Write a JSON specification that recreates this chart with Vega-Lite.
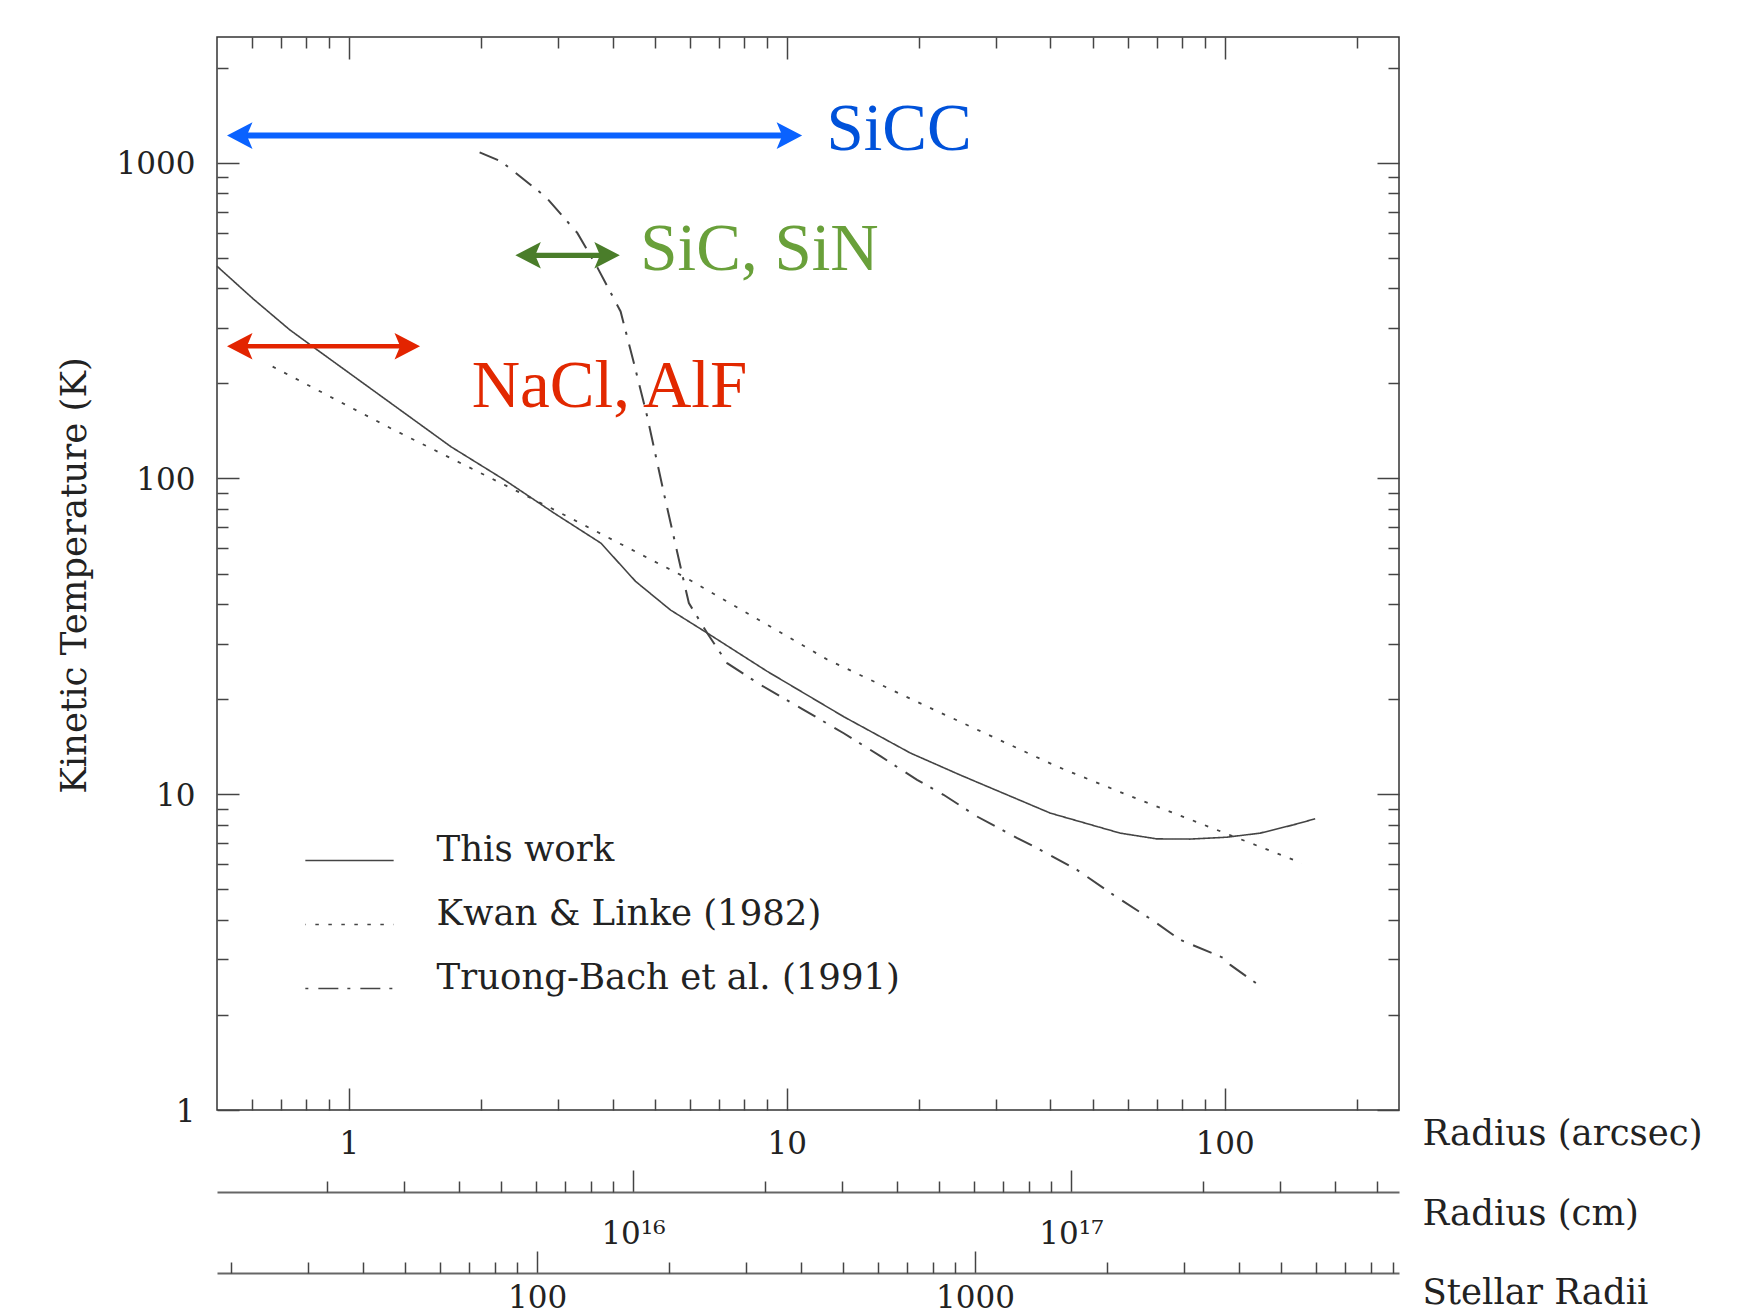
{
  "$schema": "https://vega.github.io/schema/vega-lite/v6.json",
  "width": 1182,
  "height": 1073,
  "autosize": {"type": "none"},
  "padding": {"left": 217, "top": 37, "right": 346, "bottom": 205},
  "background": "white",
  "config": {
    "view": {"stroke": "#333", "strokeWidth": 1.5},
    "axis": {
      "grid": false,
      "domain": false,
      "labelFont": "DejaVu Serif",
      "labelFontSize": 31,
      "labelColor": "#222",
      "titleFont": "DejaVu Serif",
      "titleFontSize": 35.5,
      "titleFontWeight": "normal",
      "titleColor": "#222",
      "tickColor": "#444",
      "tickWidth": 1.5,
      "labelOverlap": false,
      "labelFlush": false
    },
    "legend": {
      "labelFont": "DejaVu Serif",
      "labelFontSize": 35.5,
      "labelColor": "#222"
    }
  },
  "datasets": {
    "curves": [
      {"series": "This work", "r": 0.5, "T": 470},
      {"series": "This work", "r": 0.604, "T": 371},
      {"series": "This work", "r": 0.732, "T": 296},
      {"series": "This work", "r": 0.835, "T": 259},
      {"series": "This work", "r": 1.248, "T": 173},
      {"series": "This work", "r": 1.711, "T": 126},
      {"series": "This work", "r": 2.265, "T": 99},
      {"series": "This work", "r": 2.945, "T": 77.6},
      {"series": "This work", "r": 3.763, "T": 62.4},
      {"series": "This work", "r": 4.516, "T": 47.2},
      {"series": "This work", "r": 5.428, "T": 38.3},
      {"series": "This work", "r": 6.58, "T": 32.4},
      {"series": "This work", "r": 9.02, "T": 24.5},
      {"series": "This work", "r": 13.49, "T": 17.6},
      {"series": "This work", "r": 19.16, "T": 13.5},
      {"series": "This work", "r": 24.9, "T": 11.5},
      {"series": "This work", "r": 40.0, "T": 8.71},
      {"series": "This work", "r": 57.7, "T": 7.53},
      {"series": "This work", "r": 70.0, "T": 7.22},
      {"series": "This work", "r": 83.4, "T": 7.21},
      {"series": "This work", "r": 101.2, "T": 7.31},
      {"series": "This work", "r": 120.5, "T": 7.53},
      {"series": "This work", "r": 143.6, "T": 8.0},
      {"series": "This work", "r": 160.9, "T": 8.36},
      {"series": "Kwan & Linke (1982)", "r": 0.67, "T": 226},
      {"series": "Kwan & Linke (1982)", "r": 1.248, "T": 144},
      {"series": "Kwan & Linke (1982)", "r": 2.893, "T": 80.6},
      {"series": "Kwan & Linke (1982)", "r": 5.82, "T": 48.9},
      {"series": "Kwan & Linke (1982)", "r": 12.37, "T": 26.7},
      {"series": "Kwan & Linke (1982)", "r": 20.9, "T": 18.96},
      {"series": "Kwan & Linke (1982)", "r": 41.4, "T": 12.24},
      {"series": "Kwan & Linke (1982)", "r": 59.8, "T": 9.96},
      {"series": "Kwan & Linke (1982)", "r": 150, "T": 6.05},
      {"series": "Truong-Bach et al. (1991)", "r": 1.989, "T": 1078},
      {"series": "Truong-Bach et al. (1991)", "r": 2.228, "T": 1009},
      {"series": "Truong-Bach et al. (1991)", "r": 2.814, "T": 780},
      {"series": "Truong-Bach et al. (1991)", "r": 3.324, "T": 599},
      {"series": "Truong-Bach et al. (1991)", "r": 3.693, "T": 466},
      {"series": "Truong-Bach et al. (1991)", "r": 4.174, "T": 338},
      {"series": "Truong-Bach et al. (1991)", "r": 4.476, "T": 232},
      {"series": "Truong-Bach et al. (1991)", "r": 4.801, "T": 157},
      {"series": "Truong-Bach et al. (1991)", "r": 5.241, "T": 89.7},
      {"series": "Truong-Bach et al. (1991)", "r": 5.82, "T": 47.2},
      {"series": "Truong-Bach et al. (1991)", "r": 5.976, "T": 40.3},
      {"series": "Truong-Bach et al. (1991)", "r": 6.58, "T": 32.4},
      {"series": "Truong-Bach et al. (1991)", "r": 7.31, "T": 26.0},
      {"series": "Truong-Bach et al. (1991)", "r": 8.71, "T": 22.2},
      {"series": "Truong-Bach et al. (1991)", "r": 10.93, "T": 18.5},
      {"series": "Truong-Bach et al. (1991)", "r": 13.49, "T": 15.6},
      {"series": "Truong-Bach et al. (1991)", "r": 16.36, "T": 13.2},
      {"series": "Truong-Bach et al. (1991)", "r": 19.84, "T": 11.1},
      {"series": "Truong-Bach et al. (1991)", "r": 22.8, "T": 9.96},
      {"series": "Truong-Bach et al. (1991)", "r": 27.2, "T": 8.5},
      {"series": "Truong-Bach et al. (1991)", "r": 33.6, "T": 7.26},
      {"series": "Truong-Bach et al. (1991)", "r": 37.3, "T": 6.75},
      {"series": "Truong-Bach et al. (1991)", "r": 46.0, "T": 5.76},
      {"series": "Truong-Bach et al. (1991)", "r": 55.7, "T": 4.8},
      {"series": "Truong-Bach et al. (1991)", "r": 68.2, "T": 4.0},
      {"series": "Truong-Bach et al. (1991)", "r": 79.1, "T": 3.46},
      {"series": "Truong-Bach et al. (1991)", "r": 99.4, "T": 3.03},
      {"series": "Truong-Bach et al. (1991)", "r": 103, "T": 2.88},
      {"series": "Truong-Bach et al. (1991)", "r": 119.4, "T": 2.49}
    ],
    "arrows": [
      {"molecule": "SiCC", "r1": 0.527, "r2": 10.84, "T": 1218, "label_r": 12.32, "label_T": 1094},
      {"molecule": "SiC, SiN", "r1": 2.4, "r2": 4.157, "T": 509, "label_r": 4.63, "label_T": 458},
      {"molecule": "NaCl, AlF", "r1": 0.527, "r2": 1.454, "T": 262, "label_r": 1.908, "label_T": 168.7}
    ],
    "none": []
  },
  "resolve": {
    "scale": {"x": "independent", "color": "independent", "strokeWidth": "independent"},
    "axis": {"x": "independent", "y": "independent"}
  },
  "layer": [
    {
      "data": {"name": "curves"},
      "mark": {"type": "line", "color": "#444", "strokeCap": "butt"},
      "encoding": {
        "x": {
          "field": "r", "type": "quantitative",
          "scale": {"type": "log", "domain": [0.5, 250], "nice": false},
          "axis": {
            "orient": "bottom", "values": [1, 10, 100], "format": "d",
            "tickSize": -22, "labelPadding": 65, "labelBaseline": "alphabetic",
            "title": "Radius (arcsec)", "titleX": 1205, "titleY": 34,
            "titleAlign": "left", "titleBaseline": "alphabetic", "titleAngle": 0
          }
        },
        "y": {
          "field": "T", "type": "quantitative",
          "scale": {"type": "log", "domain": [1, 2500], "nice": false},
          "axis": {
            "orient": "left", "values": [1, 10, 100, 1000], "format": "d",
            "tickSize": -22, "labelPadding": 44, "labelBaseline": "middle", "labelOffset": 2,
            "title": "Kinetic Temperature (K)", "titleX": -143, "titleY": 538,
            "titleAngle": -90, "titleAlign": "center", "titleBaseline": "middle"
          }
        },
        "strokeDash": {
          "field": "series", "type": "nominal",
          "scale": {
            "domain": ["This work", "Kwan & Linke (1982)", "Truong-Bach et al. (1991)"],
            "range": [[1, 0], [3.5, 9.5], [20, 9, 3, 10]]
          },
          "legend": {
            "orient": "none", "legendX": 87, "legendY": 778, "title": null,
            "symbolType": "stroke", "symbolSize": 7800, "symbolStrokeWidth": 1.7,
            "symbolStrokeColor": "#444", "symbolDashOffset": 29,
            "labelOffset": 41.5, "labelBaseline": "alphabetic",
            "rowPadding": 11, "labelLimit": 0, "padding": 0, "symbolOffset": 0
          }
        },
        "strokeWidth": {
          "field": "series", "type": "nominal",
          "scale": {
            "domain": ["This work", "Kwan & Linke (1982)", "Truong-Bach et al. (1991)"],
            "range": [1.6, 2, 1.6]
          },
          "legend": null
        }
      }
    },
    {
      "data": {"name": "arrows"},
      "mark": {"type": "rule", "strokeCap": "butt", "xOffset": 18, "x2Offset": -18},
      "encoding": {
        "x": {
          "field": "r1", "type": "quantitative",
          "scale": {"type": "log", "domain": [0.5, 250], "nice": false},
          "axis": {"orient": "bottom", "values": [0.6, 0.7, 0.8, 0.9, 2, 3, 4, 5, 6, 7, 8, 9, 20, 30, 40, 50, 60, 70, 80, 90, 200], "tickSize": -11, "labels": false, "title": null}
        },
        "x2": {"field": "r2"},
        "y": {
          "field": "T", "type": "quantitative",
          "axis": {"orient": "left", "values": [2, 3, 4, 5, 6, 7, 8, 9, 20, 30, 40, 50, 60, 70, 80, 90, 200, 300, 400, 500, 600, 700, 800, 900, 2000], "tickSize": -11, "labels": false, "title": null}
        },
        "color": {
          "field": "molecule", "type": "nominal",
          "scale": {"domain": ["SiCC", "SiC, SiN", "NaCl, AlF"], "range": ["#0a62ff", "#4a7d2a", "#e32400"]},
          "legend": null
        },
        "strokeWidth": {
          "field": "molecule", "type": "nominal",
          "scale": {"domain": ["SiCC", "SiC, SiN", "NaCl, AlF"], "range": [6, 4.5, 6.5]},
          "legend": null
        }
      }
    },
    {
      "data": {"name": "arrows"},
      "mark": {"type": "point", "filled": true, "opacity": 1, "size": 2601, "shape": "M0,0L1,-0.52L0.78,0L1,0.52Z"},
      "encoding": {
        "x": {
          "field": "r1", "type": "quantitative",
          "scale": {"type": "log", "domain": [0.5, 250], "nice": false},
          "axis": {"orient": "top", "values": [1, 10, 100], "tickSize": -22, "labels": false, "title": null}
        },
        "y": {
          "field": "T", "type": "quantitative",
          "axis": {"orient": "right", "values": [1, 10, 100, 1000], "tickSize": -22, "labels": false, "title": null}
        },
        "color": {
          "field": "molecule", "type": "nominal",
          "scale": {"domain": ["SiCC", "SiC, SiN", "NaCl, AlF"], "range": ["#0a62ff", "#4a7d2a", "#e32400"]},
          "legend": null
        }
      }
    },
    {
      "data": {"name": "arrows"},
      "mark": {"type": "point", "filled": true, "opacity": 1, "size": 2601, "shape": "M0,0L-1,-0.52L-0.78,0L-1,0.52Z"},
      "encoding": {
        "x": {
          "field": "r2", "type": "quantitative",
          "scale": {"type": "log", "domain": [0.5, 250], "nice": false},
          "axis": {"orient": "top", "values": [0.6, 0.7, 0.8, 0.9, 2, 3, 4, 5, 6, 7, 8, 9, 20, 30, 40, 50, 60, 70, 80, 90, 200], "tickSize": -11, "labels": false, "title": null}
        },
        "y": {
          "field": "T", "type": "quantitative",
          "axis": {"orient": "right", "values": [2, 3, 4, 5, 6, 7, 8, 9, 20, 30, 40, 50, 60, 70, 80, 90, 200, 300, 400, 500, 600, 700, 800, 900, 2000], "tickSize": -11, "labels": false, "title": null}
        },
        "color": {
          "field": "molecule", "type": "nominal",
          "scale": {"domain": ["SiCC", "SiC, SiN", "NaCl, AlF"], "range": ["#0a62ff", "#4a7d2a", "#e32400"]},
          "legend": null
        }
      }
    },
    {
      "data": {"name": "arrows"},
      "mark": {"type": "text", "align": "left", "baseline": "alphabetic", "font": "Liberation Serif", "fontSize": 67},
      "encoding": {
        "x": {
          "field": "label_r", "type": "quantitative",
          "scale": {"type": "log", "domain": [0.5, 250], "nice": false},
          "axis": null
        },
        "y": {"field": "label_T", "type": "quantitative", "axis": null},
        "text": {"field": "molecule"},
        "color": {
          "field": "molecule", "type": "nominal",
          "scale": {"domain": ["SiCC", "SiC, SiN", "NaCl, AlF"], "range": ["#0052da", "#69a03a", "#e22800"]},
          "legend": null
        }
      }
    },
    {
      "data": {"name": "none"},
      "mark": "rule",
      "encoding": {
        "x": {
          "field": "r_cm", "type": "quantitative",
          "scale": {"type": "log", "domain": [1.122e15, 5.61e17], "nice": false},
          "axis": {
            "orient": "bottom", "offset": 82, "values": [1e16, 1e17],
            "labelExpr": "datum.value < 5e16 ? '10¹⁶' : '10¹⁷'",
            "tickSize": -22, "labelPadding": 73, "labelBaseline": "alphabetic",
            "domain": true, "domainColor": "#666", "domainWidth": 2,
            "title": "Radius (cm)", "titleX": 1205, "titleY": 32,
            "titleAlign": "left", "titleBaseline": "alphabetic", "titleAngle": 0
          }
        }
      }
    },
    {
      "data": {"name": "none"},
      "mark": "rule",
      "encoding": {
        "x": {
          "field": "r_cm", "type": "quantitative",
          "scale": {"type": "log", "domain": [1.122e15, 5.61e17], "nice": false},
          "axis": {
            "orient": "bottom", "offset": 82,
            "values": [2e15, 3e15, 4e15, 5e15, 6e15, 7e15, 8e15, 9e15, 2e16, 3e16, 4e16, 5e16, 6e16, 7e16, 8e16, 9e16, 2e17, 3e17, 4e17, 5e17],
            "tickSize": -11, "labels": false, "title": null
          }
        }
      }
    },
    {
      "data": {"name": "none"},
      "mark": "rule",
      "encoding": {
        "x": {
          "field": "r_star", "type": "quantitative",
          "scale": {"type": "log", "domain": [18.58, 9290], "nice": false},
          "axis": {
            "orient": "bottom", "offset": 163, "values": [100, 1000], "format": "d",
            "tickSize": -22, "labelPadding": 56, "labelBaseline": "alphabetic",
            "domain": true, "domainColor": "#666", "domainWidth": 2,
            "title": "Stellar Radii", "titleX": 1205, "titleY": 30,
            "titleAlign": "left", "titleBaseline": "alphabetic", "titleAngle": 0
          }
        }
      }
    },
    {
      "data": {"name": "none"},
      "mark": "rule",
      "encoding": {
        "x": {
          "field": "r_star", "type": "quantitative",
          "scale": {"type": "log", "domain": [18.58, 9290], "nice": false},
          "axis": {
            "orient": "bottom", "offset": 163,
            "values": [20, 30, 40, 50, 60, 70, 80, 90, 200, 300, 400, 500, 600, 700, 800, 900, 2000, 3000, 4000, 5000, 6000, 7000, 8000, 9000],
            "tickSize": -11, "labels": false, "title": null
          }
        }
      }
    }
  ]
}
